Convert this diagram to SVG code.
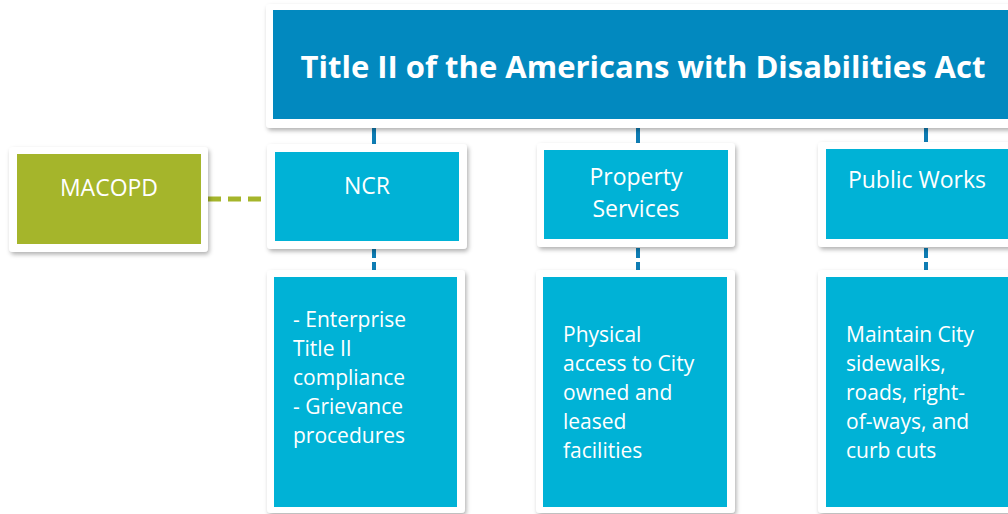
<svg xmlns="http://www.w3.org/2000/svg" width="1008" height="514" viewBox="0 0 1008 514">
<defs>
<filter id="sh" x="-10%" y="-10%" width="130%" height="130%">
<feDropShadow dx="1.5" dy="2.5" stdDeviation="2" flood-color="#000" flood-opacity="0.3"/>
</filter>
<style>
.frame{fill:#fff;filter:url(#sh)}
.cy{fill:#00B2D6}
.hd{font-family:"Open Sans","Liberation Sans",sans-serif;font-size:23px;fill:#fff;text-anchor:middle}
.bd{font-family:"Open Sans","Liberation Sans",sans-serif;font-size:21px;fill:#fff}
.c{stroke:#0E7DB4;stroke-width:4;fill:none}
.d{stroke-dasharray:10 4}
</style>
</defs>
<rect width="1008" height="514" fill="#fff"/>
<g id="connectors">
<line class="c" x1="374" y1="125" x2="374" y2="146"/>
<line class="c" x1="638" y1="125" x2="638" y2="146"/>
<line class="c" x1="926" y1="125" x2="926" y2="146"/>
<line class="c d" x1="374" y1="248" x2="374" y2="272"/>
<line class="c d" x1="638" y1="248" x2="638" y2="272"/>
<line class="c d" x1="926" y1="248" x2="926" y2="272"/>
<line x1="208" y1="199" x2="266" y2="199" stroke="#A5B52B" stroke-width="5" stroke-dasharray="13 7"/>
</g>
<g id="title">
<rect class="frame" x="266" y="4" width="760" height="124" rx="4"/>
<rect x="273" y="10" width="745" height="109" fill="#0289BF"/>
<text x="643" y="78" font-family="'Open Sans','Liberation Sans',sans-serif" font-size="31" font-weight="bold" fill="#fff" text-anchor="middle">Title II of the Americans with Disabilities Act</text>
</g>
<g id="macopd">
<rect class="frame" x="9" y="147" width="199" height="105" rx="4"/>
<rect x="17" y="154" width="184" height="90" fill="#A5B52B"/>
<text class="hd" x="109" y="196">MACOPD</text>
</g>
<g id="ncr">
<rect class="frame" x="267" y="144" width="200" height="105" rx="4"/>
<rect class="cy" x="275" y="152" width="184" height="89"/>
<text class="hd" x="367" y="194">NCR</text>
</g>
<g id="property">
<rect class="frame" x="537" y="143" width="198" height="104" rx="4"/>
<rect class="cy" x="544" y="150" width="184" height="89"/>
<text class="hd" x="636" y="185">Property</text>
<text class="hd" x="636" y="217">Services</text>
</g>
<g id="publicworks">
<rect class="frame" x="818" y="142" width="210" height="105" rx="4"/>
<rect class="cy" x="826" y="149" width="200" height="90"/>
<text class="hd" x="917" y="188">Public Works</text>
</g>
<g id="ncr-detail">
<rect class="frame" x="267" y="270" width="198" height="243" rx="4"/>
<rect class="cy" x="274" y="277" width="183" height="230"/>
<text class="bd" x="293" y="327">- Enterprise</text>
<text class="bd" x="293" y="356">Title II</text>
<text class="bd" x="293" y="385">compliance</text>
<text class="bd" x="293" y="414">- Grievance</text>
<text class="bd" x="293" y="443">procedures</text>
</g>
<g id="property-detail">
<rect class="frame" x="536" y="270" width="199" height="243" rx="4"/>
<rect class="cy" x="543" y="277" width="184" height="230"/>
<text class="bd" x="563" y="342">Physical</text>
<text class="bd" x="563" y="371">access to City</text>
<text class="bd" x="563" y="400">owned and</text>
<text class="bd" x="563" y="429">leased</text>
<text class="bd" x="563" y="458">facilities</text>
</g>
<g id="publicworks-detail">
<rect class="frame" x="818" y="270" width="210" height="243" rx="4"/>
<rect class="cy" x="826" y="277" width="200" height="230"/>
<text class="bd" x="846" y="342">Maintain City</text>
<text class="bd" x="846" y="371">sidewalks,</text>
<text class="bd" x="846" y="400">roads, right-</text>
<text class="bd" x="846" y="429">of-ways, and</text>
<text class="bd" x="846" y="458">curb cuts</text>
</g>
</svg>
